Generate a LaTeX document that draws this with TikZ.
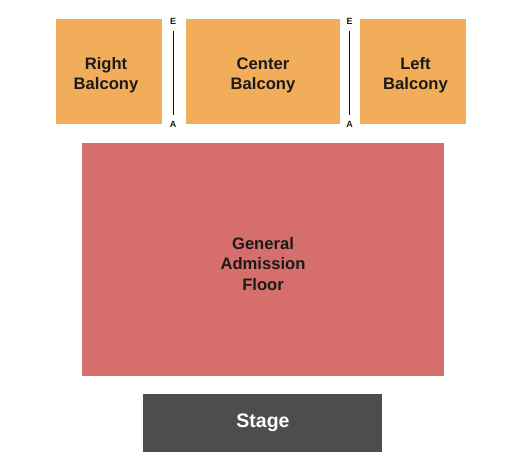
\documentclass[tikz,border=0pt]{standalone}
\usepackage{fontspec}
\setmainfont{Liberation Sans}
\definecolor{balc}{HTML}{F2AD5A}
\definecolor{floorc}{HTML}{D66E6C}
\definecolor{stagec}{HTML}{4D4D4D}
\definecolor{txt}{HTML}{1A1A1A}
\begin{document}
\begin{tikzpicture}[x=1pt,y=-1pt,
  lbl/.style={font=\bfseries\fontsize{16.6}{20.3}\selectfont,align=center,text=txt},
  rowlbl/.style={font=\bfseries\fontsize{9}{10}\selectfont,text=txt,inner sep=0pt},
  rowline/.style={draw=txt,line width=0.9pt}]
\useasboundingbox (0,0) rectangle (525,462);
% balconies
\fill[balc] (56,19) rectangle (162,124);
\fill[balc] (186,19) rectangle (340,124);
\fill[balc] (360,19) rectangle (466,124);
\node[lbl] (rb) at (106,75.5) {Right\\Balcony};
\node[lbl] (cb) at (263,75.5) {Center\\Balcony};
\node[lbl] (lb) at (415.5,75.5) {Left\\Balcony};
% row markers
\node[rowlbl] (e1) at (173,21.5) {E};
\node[rowlbl] (a1) at (173,124.5) {A};
\node[rowlbl] (e2) at (349.5,21.5) {E};
\node[rowlbl] (a2) at (349.5,124.5) {A};
\path (e1.south) ++(0,6) coordinate (e1b) (a1.north) ++(0,-6.5) coordinate (a1t);
\draw[rowline] (e1b) -- (a1t);
\path (e2.south) ++(0,6) coordinate (e2b) (a2.north) ++(0,-6.5) coordinate (a2t);
\draw[rowline] (e2b) -- (a2t);
% floor
\fill[floorc] (82,143) rectangle (444,376);
\node[lbl] (fl) at (263,264) {General\\Admission\\Floor};
% stage
\fill[stagec] (143,394) rectangle (382,452);
\node[font=\bfseries\fontsize{19.5}{22}\selectfont,text=white] (st) at (263,423) {Stage};
\end{tikzpicture}
\end{document}
